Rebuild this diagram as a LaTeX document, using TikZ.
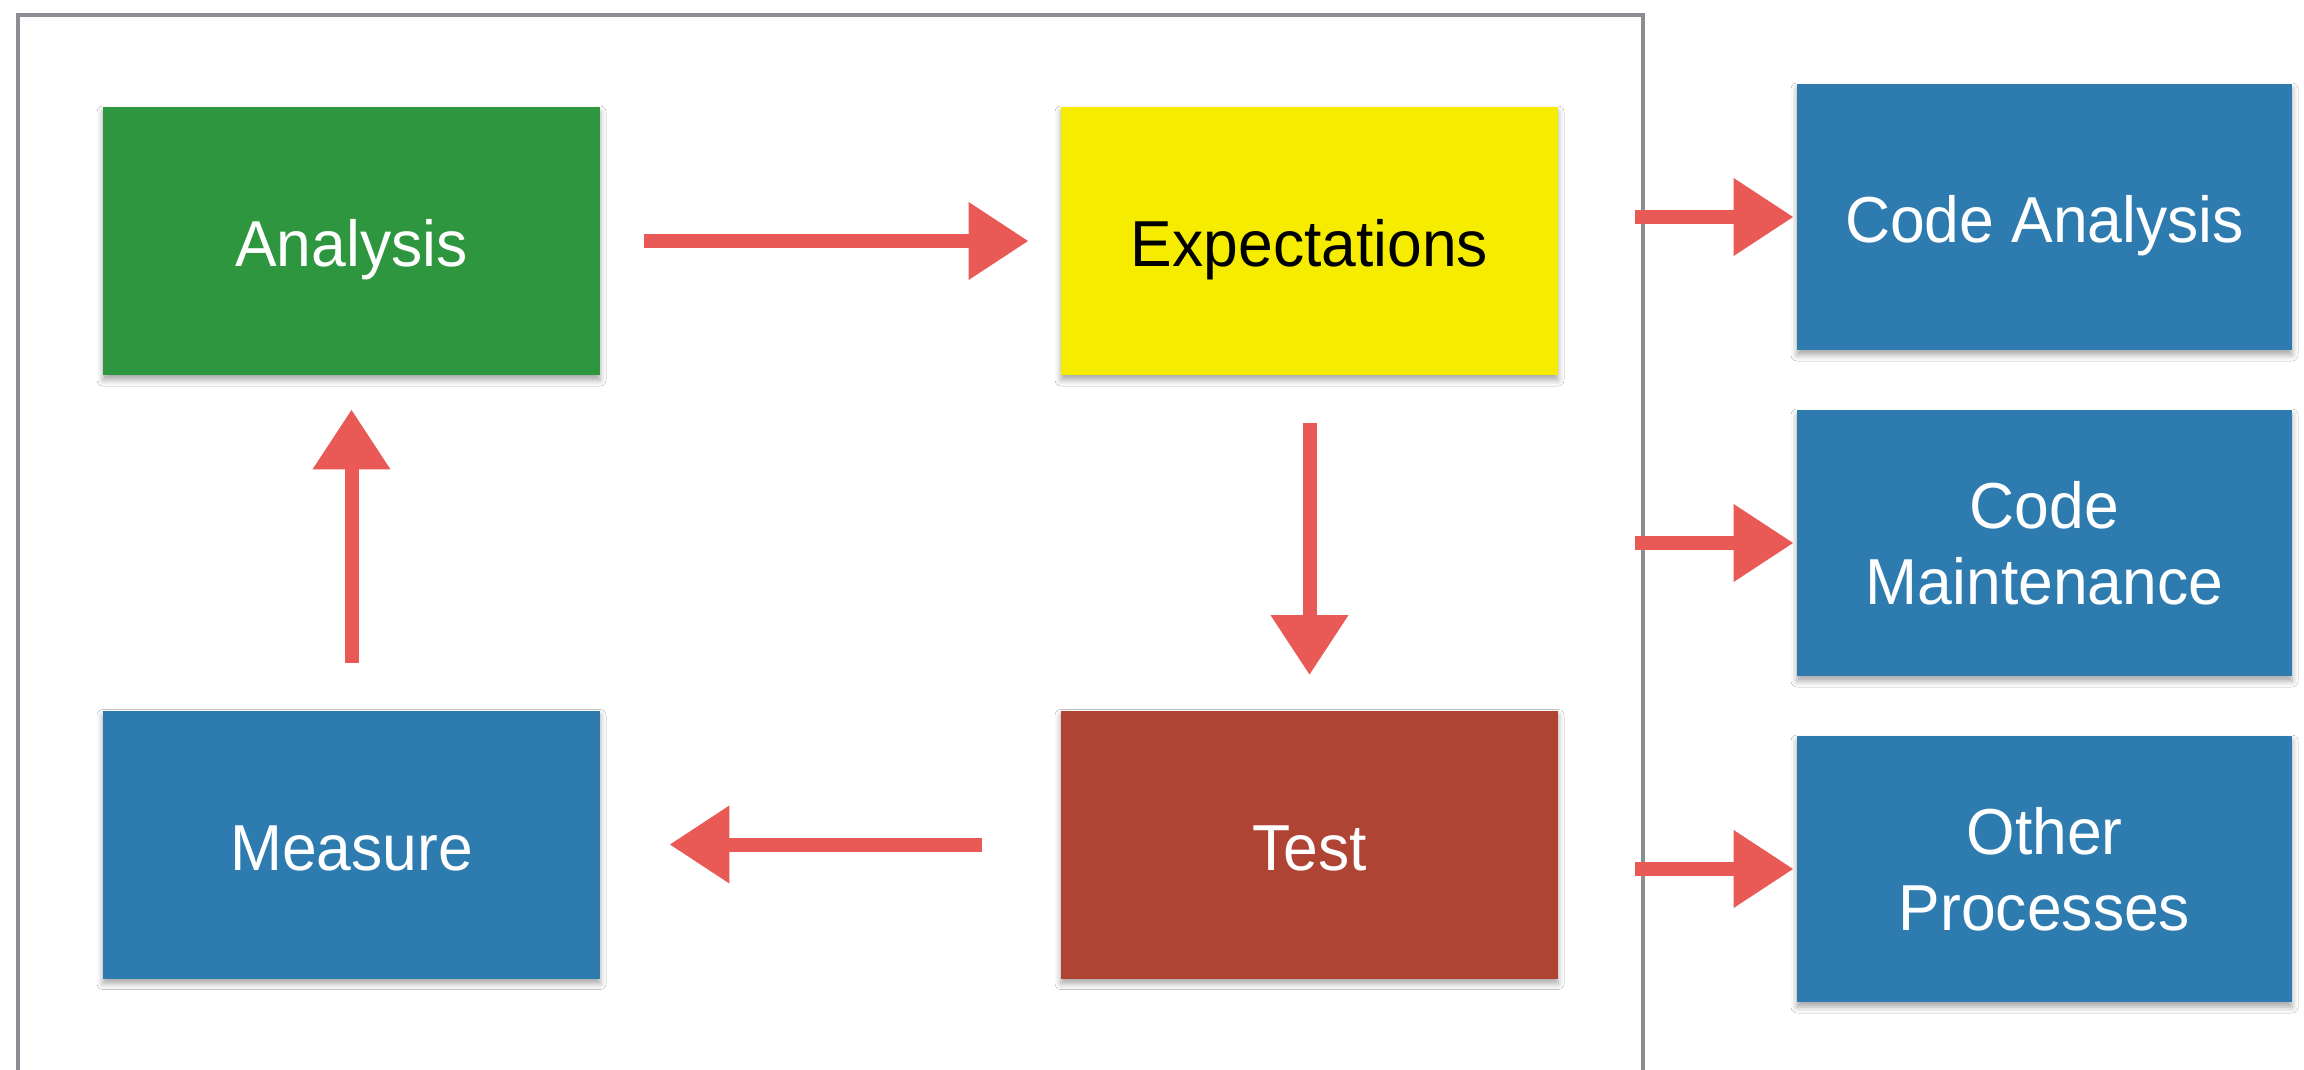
\documentclass[tikz,border=0pt]{standalone}
\usepackage{fontspec}
\setmainfont{Liberation Sans}
\newfontfamily\cardfont[FakeStretch=0.96]{Liberation Sans}
\usetikzlibrary{arrows.meta,shadows.blur}
\definecolor{boxgreen}{HTML}{2E963F}
\definecolor{boxyellow}{HTML}{F6EC00}
\definecolor{boxblue}{HTML}{2D7BAF}
\definecolor{boxred}{HTML}{B04434}
\definecolor{arrowred}{HTML}{E95A56}
\definecolor{framegray}{HTML}{8A8D91}
\tikzset{
  card/.style={rectangle, minimum width=248.5pt, minimum height=134pt, inner sep=0pt,
    align=center, text=white, font=\cardfont\fontsize{32.5}{38}\selectfont,
    blur shadow={shadow xshift=0pt, shadow yshift=-2.5pt, shadow blur radius=3pt, shadow opacity=35}},
  oneline/.style={text height=25.8pt, text depth=0pt},
  sidecard/.style={card, fill=boxblue, minimum width=247.5pt, minimum height=133pt},
  arr/.style={draw=arrowred, line width=7pt, -{Triangle[length=30pt,width=37pt]}}
}
\begin{document}
\begin{tikzpicture}[x=0.5pt,y=-0.5pt]
\useasboundingbox (0,0) rectangle (2304,1070);
\fill[white] (0,0) rectangle (2304,1070);
% frame
\draw[framegray, line width=1.8pt] (18,1075) -- (18,15) -- (1643,15) -- (1643,1075);
% main cards
\node[card, oneline, fill=boxgreen] (an) at (351.5,241) {Analysis};
\node[card, oneline, fill=boxyellow, text=black] (ex) at (1309.5,241) {Expectations};
\node[card, oneline, fill=boxblue] (me) at (351.5,844.5) {Measure};
\node[card, oneline, fill=boxred] (te) at (1309.5,844.5) {Test};
% right cards
\node[sidecard, oneline] (ca) at (2044.5,217) {Code Analysis};
\node[sidecard] (cm) at (2044.5,543) {Code\\Maintenance};
\node[sidecard] (op) at (2044.5,869) {Other\\Processes};
% cycle arrows
\draw[arr, shorten <=22pt, shorten >=16pt] (an) -- (ex);
\draw[arr, shorten <=24pt, shorten >=17.5pt] (ex) -- (te);
\draw[arr, shorten <=39.5pt, shorten >=34.5pt] (te) -- (me);
\draw[arr, shorten <=23.5pt, shorten >=17pt] (me) -- (an);
% outgoing arrows
\coordinate (fr) at (1635,0);
\draw[arr, shorten >=1.5pt] (ca.west -| fr) -- (ca.west);
\draw[arr, shorten >=1.5pt] (cm.west -| fr) -- (cm.west);
\draw[arr, shorten >=1.5pt] (op.west -| fr) -- (op.west);
\end{tikzpicture}
\end{document}
